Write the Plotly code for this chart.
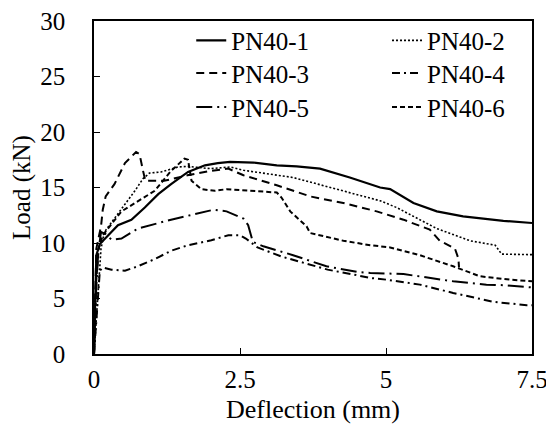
import plotly.graph_objects as go

# ---- data ----
names = ["PN40-1", "PN40-2", "PN40-3", "PN40-4", "PN40-5", "PN40-6"]

x1 = [0, 0.02, 0.04, 0.1, 0.24, 0.41, 0.64, 0.87, 1.10, 1.32, 1.61, 1.90, 2.12, 2.33, 2.73, 3.13, 3.47, 3.87, 4.38, 4.73, 4.90, 5.07, 5.47, 5.87, 6.32, 7.01, 7.5]
y1 = [0, 5.5, 8.9, 9.9, 10.7, 11.6, 12.1, 13.2, 14.4, 15.3, 16.4, 17.0, 17.2, 17.3, 17.25, 17.0, 16.9, 16.7, 15.9, 15.3, 15.0, 14.85, 13.6, 12.85, 12.4, 12.0, 11.8]

x2 = [0, 0.04, 0.08, 0.12, 0.18, 0.35, 0.53, 0.70, 0.84, 0.95, 1.15, 1.44, 1.61, 1.99, 2.33, 2.56, 3.41, 4.27, 4.73, 4.90, 5.18, 5.87, 6.44, 6.87, 6.98, 7.5]
y2 = [0, 3.5, 7.0, 9.5, 11.0, 12.2, 13.5, 14.7, 15.8, 16.3, 16.4, 16.85, 16.9, 16.7, 16.85, 16.55, 15.9, 14.7, 14.1, 13.8, 13.2, 11.3, 10.2, 9.8, 9.0, 8.95]

x3 = [0, 0.04, 0.08, 0.12, 0.15, 0.2, 0.35, 0.53, 0.72, 0.78, 0.84, 0.88, 1.2, 1.6, 2.0, 2.3, 2.56, 3.13, 3.70, 4.27, 4.84, 5.30, 5.75, 5.92, 6.18, 6.24, 6.25]
y3 = [0, 9.5, 10.5, 11.5, 13.0, 14.2, 15.3, 17.2, 18.2, 18.0, 16.5, 15.6, 15.6, 16.1, 16.5, 16.7, 16.1, 15.2, 14.2, 13.6, 12.85, 12.1, 11.2, 10.2, 9.5, 8.6, 7.8]

x4 = [0, 0.03, 0.07, 0.1, 0.15, 0.30, 0.53, 0.75, 1.04, 1.32, 1.61, 2.01, 2.3, 2.5, 2.6, 2.8, 3.2, 3.6, 4.0, 4.5, 4.73, 5.0, 5.58, 6.15, 6.84, 7.41, 7.5]
y4 = [0, 2.5, 5.5, 7.5, 7.8, 7.6, 7.5, 7.9, 8.55, 9.3, 9.8, 10.25, 10.7, 10.7, 10.4, 9.6, 8.8, 8.2, 7.6, 7.1, 6.85, 6.7, 6.25, 5.5, 4.7, 4.4, 4.4]

x5 = [0, 0.03, 0.07, 0.12, 0.2, 0.3, 0.47, 0.75, 1.32, 1.90, 2.05, 2.27, 2.56, 2.64, 2.68, 2.72, 2.9, 3.41, 3.98, 4.50, 4.73, 5.30, 6.15, 6.72, 7.0, 7.5]
y5 = [0, 5, 9, 11.0, 10.8, 10.3, 10.4, 11.3, 12.1, 12.85, 13.0, 12.85, 12.2, 11.6, 10.8, 10.1, 9.7, 8.9, 7.9, 7.4, 7.3, 7.2, 6.55, 6.25, 6.2, 6.0]

x6 = [0, 0.03, 0.08, 0.15, 0.47, 1.04, 1.32, 1.55, 1.61, 1.67, 1.84, 2.07, 2.27, 2.67, 3.13, 3.21, 3.36, 3.64, 3.70, 4.27, 4.73, 5.07, 5.58, 6.15, 6.61, 7.12, 7.5]
y6 = [0, 6, 9.5, 10.7, 12.85, 14.7, 16.5, 17.6, 17.5, 15.6, 14.85, 14.7, 14.85, 14.7, 14.55, 14.1, 12.85, 11.5, 10.9, 10.2, 9.8, 9.6, 8.9, 7.9, 7.0, 6.7, 6.55]

x_ticks = [0, 2.5, 5, 7.5]
x_tick_labels = ["0", "2.5", "5", "7.5"]
y_ticks = [0, 5, 10, 15, 20, 25, 30]

# ---- styling ----
dashes = ["solid", "2px,2px", "8px,5px", "8px,4px,2px,4px", "16px,5px,2px,5px", "5px,3px"]
widths = [2.2, 1.6, 2, 2, 2, 2]
legend_ids = ["legend", "legend2", "legend3", "legend4", "legend5", "legend6"]
leg_x = [0.222, 0.669, 0.222, 0.669, 0.222, 0.669]
leg_y = [0.941, 0.941, 0.843, 0.843, 0.741, 0.741]

fig = go.Figure()
for name, xs, ys, d, w, lg in zip(names, [x1, x2, x3, x4, x5, x6], [y1, y2, y3, y4, y5, y6],
                                  dashes, widths, legend_ids):
    fig.add_trace(go.Scatter(x=xs, y=ys, mode="lines", name=name, legend=lg,
                             line=dict(color="black", width=w, dash=d)))

FONT = "Liberation Serif"
legends = {}
for lg, lx, ly in zip(legend_ids, leg_x, leg_y):
    legends[lg] = dict(x=lx, y=ly, xanchor="left", yanchor="middle",
                       bgcolor="rgba(0,0,0,0)", borderwidth=0,
                       font=dict(size=25, family=FONT, color="black"))

# page body has an 8px margin: figure is sized/margined so the plot lands where the reference has it
fig.update_layout(
    width=546, height=416,
    margin=dict(l=86, r=22, t=13, b=70, autoexpand=False),
    plot_bgcolor="white", paper_bgcolor="white",
    font=dict(family=FONT, size=25, color="black"),
    showlegend=True,
    **legends,
)
fig.update_xaxes(range=[0, 7.5], tickvals=x_ticks, ticktext=x_tick_labels,
                 showline=True, linecolor="black", linewidth=1.5, mirror=True,
                 ticks="inside", ticklen=6, tickcolor="black", showgrid=False, zeroline=False,
                 ticklabelstandoff=2, automargin=False, ticklabeloverflow="allow",
                 title=dict(text="Deflection (mm)", standoff=18, font=dict(family=FONT, size=26)),
                 tickfont=dict(size=25, family=FONT))
fig.update_yaxes(range=[0, 30], tickvals=y_ticks,
                 showline=True, linecolor="black", linewidth=1.5, mirror=True,
                 ticks="inside", ticklen=6, tickcolor="black", showgrid=False, zeroline=False,
                 ticklabelstandoff=22, automargin=False, ticklabeloverflow="allow",
                 title=dict(text="Load (kN)", standoff=7, font=dict(family=FONT, size=25)),
                 tickfont=dict(size=25, family=FONT))

fig.write_html("out.html")
